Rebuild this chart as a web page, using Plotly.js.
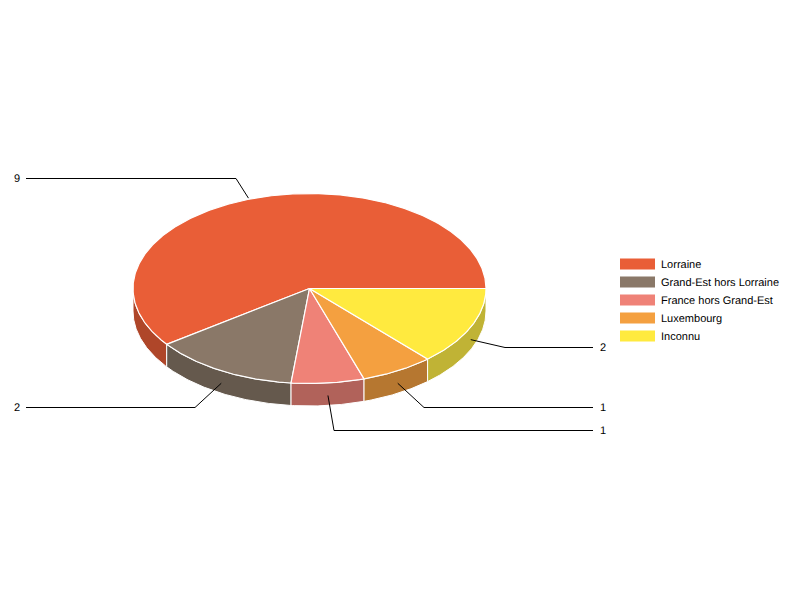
<!DOCTYPE html>
<html>
<head>
<meta charset="utf-8">
<script src="https://cdn.plot.ly/plotly-3.0.1.min.js"></script>
<style>html,body{margin:0;padding:0;background:#fff}#chart{width:800px;height:600px}
text{text-rendering:geometricPrecision;font-kerning:none}</style>
</head>
<body>
<div id="chart"></div>
<script>
const categories = ["Lorraine", "Grand-Est hors Lorraine", "France hors Grand-Est", "Luxembourg", "Inconnu"];
const values = [9, 2, 1, 1, 2];
const topColors = ["#E95E37", "#8A7868", "#EF8277", "#F4A040", "#FFEA3F"];
const sideColors = ["#AF4629", "#65594D", "#B1625A", "#B67730", "#C0B335"];

// Geometry of the projected pie (pixels)
const cx = 309.5, cy = 288.5, rx = 176.5, ry = 95, depth = 22.5;
const FONT = {family: '"Liberation Sans", Arial, sans-serif', size: 11, color: "#000"};

const total = values.reduce((a, b) => a + b, 0);
const rad = d => d * Math.PI / 180;
// Angle a runs counter-clockwise on screen from 3 o'clock
const px = a => cx + rx * Math.cos(rad(a));
const py = a => cy - ry * Math.sin(rad(a));

let start = 0;
const slices = values.map(v => {
  const a0 = start, sweep = v / total * 360;
  start += sweep;
  return {a0, a1: a0 + sweep, mid: a0 + sweep / 2};
});
const arc = (from, to) => {
  const n = Math.max(2, Math.ceil(Math.abs(to - from) * 2));
  const out = [];
  for (let i = 0; i <= n; i++) out.push(from + (to - from) * i / n);
  return out;
};

const traces = [];
const face = (xs, ys, fill, width) => traces.push({
  type: "scatter", mode: "lines", x: xs, y: ys, fill: "toself", fillcolor: fill,
  line: {color: "#fff", width: width}, hoverinfo: "skip", showlegend: false
});

// Side walls: only the part of each slice on the front half of the rim
slices.forEach((s, i) => {
  if (s.a1 <= 180) return;
  const angles = arc(Math.max(s.a0, 180), s.a1);
  const xs = [], ys = [];
  angles.forEach(a => { xs.push(px(a)); ys.push(py(a)); });
  angles.slice().reverse().forEach(a => { xs.push(px(a)); ys.push(py(a) + depth); });
  xs.push(xs[0]); ys.push(ys[0]);
  face(xs, ys, sideColors[i], 1);
});
// Top faces
slices.forEach((s, i) => {
  const xs = [cx], ys = [cy];
  arc(s.a0, s.a1).forEach(a => { xs.push(px(a)); ys.push(py(a)); });
  xs.push(cx); ys.push(cy);
  face(xs, ys, topColors[i], 1.2);
});

// Leader lines and value labels
const leaders = [
  {elbowX: 236, y: 178, endX: 26,  textX: 14,  dx: -6.5, dy: 0},
  {elbowX: 195, y: 407, endX: 26,  textX: 14,  dx: 0, dy: 12.5},
  {elbowX: 334, y: 430, endX: 593, textX: 600, dx: 0, dy: 12.5},
  {elbowX: 424, y: 407, endX: 593, textX: 600, dx: 0, dy: 12.5},
  {elbowX: 505, y: 347, endX: 593, textX: 600, dx: 0, dy: 12.5}
];
const annotations = [];
slices.forEach((s, i) => {
  const L = leaders[i];
  traces.push({
    type: "scatter", mode: "lines",
    x: [px(s.mid) + L.dx, L.elbowX, L.endX],
    y: [py(s.mid) + L.dy, L.y + 0.5, L.y + 0.5],
    line: {color: "#000", width: 1}, hoverinfo: "skip", showlegend: false
  });
  annotations.push({
    x: L.textX, y: L.y, xref: "x", yref: "y", text: String(values[i]), showarrow: false,
    xanchor: "left", yanchor: "middle", xshift: -2, yshift: -1, font: FONT
  });
});

// Legend
const shapes = [];
categories.forEach((c, i) => {
  const yc = 264 + 18 * i;
  shapes.push({type: "rect", xref: "x", yref: "y", x0: 620, x1: 655, y0: yc - 5.6, y1: yc + 5.6,
    fillcolor: topColors[i], line: {width: 0}});
  annotations.push({x: 661, y: yc, xref: "x", yref: "y", text: c, showarrow: false,
    xanchor: "left", yanchor: "middle", xshift: -2, yshift: -1, font: FONT});
});

Plotly.newPlot("chart", traces, {
  width: 800, height: 600, margin: {l: 0, r: 0, t: 0, b: 0, pad: 0},
  paper_bgcolor: "#fff", plot_bgcolor: "#fff", showlegend: false,
  xaxis: {range: [0, 800], visible: false, fixedrange: true},
  yaxis: {range: [600, 0], visible: false, fixedrange: true},
  shapes, annotations
}, {displayModeBar: false, staticPlot: true});
</script>
</body>
</html>
